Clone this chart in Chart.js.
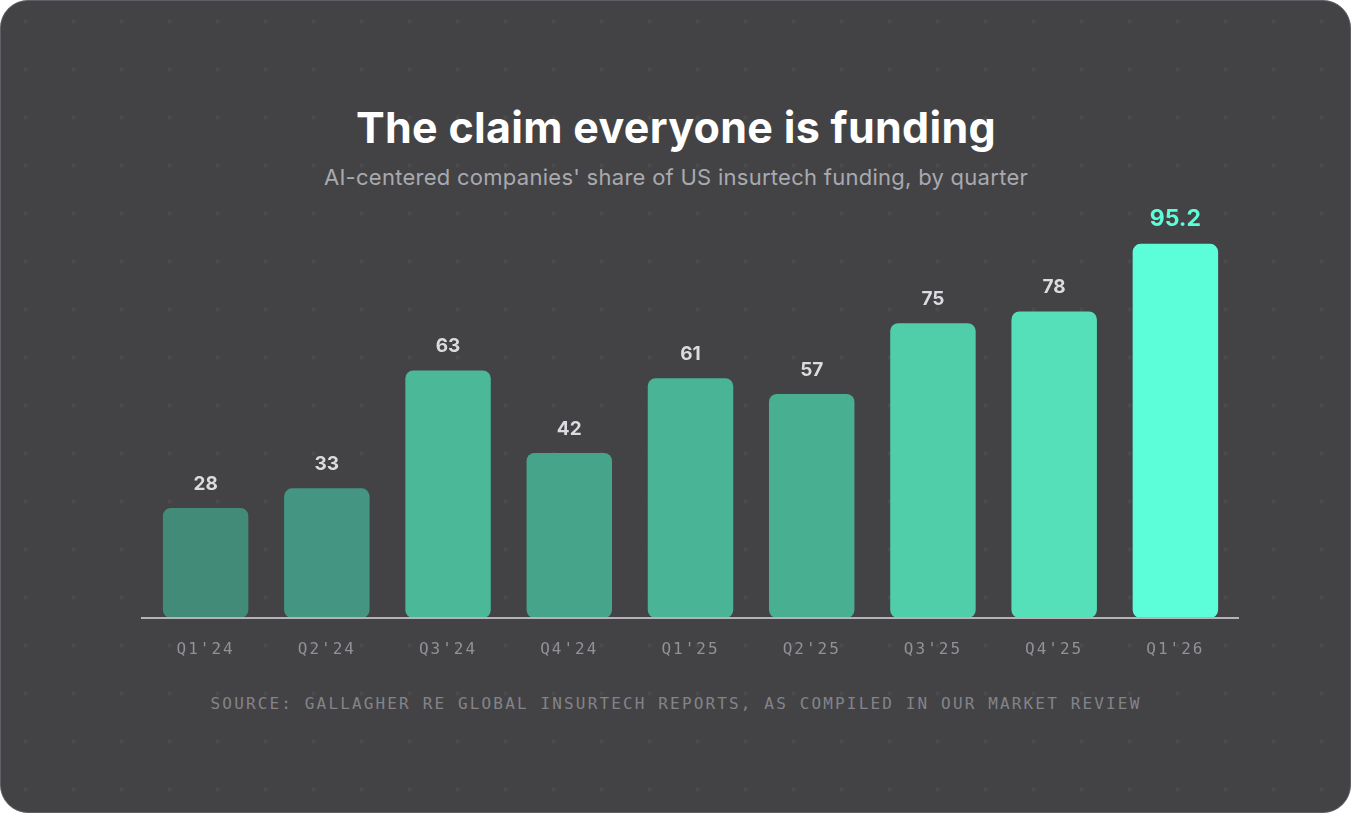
<!DOCTYPE html>
<html>
<head>
<meta charset="utf-8">
<script src="https://cdn.jsdelivr.net/npm/chart.js@4.4.1/dist/chart.umd.min.js"></script>
<style>
  html, body { margin: 0; padding: 0; background: #ffffff; width: 1352px; height: 816px; overflow: hidden; }
  .card {
    position: absolute; left: 0; top: 0; width: 1351px; height: 813px; box-sizing: border-box;
    border: 1.5px solid #5f5f67; border-radius: 28px;
    background-color: #434345;
    background-image: radial-gradient(circle, #4d4d50 1.5px, rgba(77,77,80,0) 2.2px);
    background-size: 48px 48px;
    background-position: 0.5px -3.5px;
  }
  .title {
    position: absolute; left: 0; width: 1352px; text-align: center;
    top: 102px; height: 50px; line-height: 50px;
    font-family: "Inter", "Noto Sans", sans-serif; font-weight: 700; font-size: 43px;
    color: #ffffff; letter-spacing: 0.3px;
  }
  .subtitle {
    position: absolute; left: 0; width: 1352px; text-align: center;
    top: 163px; height: 28px; line-height: 28px;
    font-family: "Inter", "Noto Sans", sans-serif; font-weight: 400; font-size: 22px;
    color: #a9a9b0; letter-spacing: 0.27px;
  }
  .source {
    position: absolute; left: 0; width: 1352px; text-align: center;
    top: 692px; height: 24px; line-height: 24px;
    font-family: "DejaVu Sans Mono", "Liberation Mono", monospace; font-size: 16px;
    color: #838389; letter-spacing: 2.15px;
  }
  canvas { position: absolute; left: 0; top: 0; }
</style>
</head>
<body>
<div class="card"></div>
<div class="title">The claim everyone is funding</div>
<div class="subtitle">AI-centered companies' share of US insurtech funding, by quarter</div>
<div class="source">SOURCE: GALLAGHER RE GLOBAL INSURTECH REPORTS, AS COMPILED IN OUR MARKET REVIEW</div>
<canvas id="c" width="1352" height="816"></canvas>
<script>
// ---- data ----
const categories = ["Q1'24", "Q2'24", "Q3'24", "Q4'24", "Q1'25", "Q2'25", "Q3'25", "Q4'25", "Q1'26"];
const values = [28, 33, 63, 42, 61, 57, 75, 78, 95.2];
const valueLabels = ["28", "33", "63", "42", "61", "57", "75", "78", "95.2"];
const yRange = [0, 100];

// ---- styles ----
const barColors = ["#438b79", "#449582", "#4bb898", "#46a48a", "#4ab596", "#49af91", "#50cda9", "#55e0b9", "#5cfed9"];
const highlightIndex = 8;

const tickSpacing = {
  id: 'tickSpacing',
  beforeDraw(chart) { chart.ctx.letterSpacing = '2px'; },
  beforeDatasetsDraw(chart) { chart.ctx.letterSpacing = '0px'; }
};

const baseline = {
  id: 'baseline',
  afterDatasetsDraw(chart) {
    const { ctx, chartArea } = chart;
    ctx.save();
    ctx.strokeStyle = '#b4b4b8';
    ctx.lineWidth = 2;
    ctx.beginPath();
    ctx.moveTo(chartArea.left - 4, chartArea.bottom);
    ctx.lineTo(chartArea.right + 3, chartArea.bottom);
    ctx.stroke();
    ctx.restore();
  }
};

const valueLabelPlugin = {
  id: 'valueLabels',
  afterDatasetsDraw(chart) {
    const { ctx } = chart;
    const meta = chart.getDatasetMeta(0);
    ctx.save();
    ctx.letterSpacing = '0px';
    ctx.textAlign = 'center';
    ctx.textBaseline = 'middle';
    meta.data.forEach((bar, i) => {
      const hi = i === highlightIndex;
      ctx.font = hi ? '700 23px Inter, "Noto Sans", sans-serif' : '700 19px Inter, "Noto Sans", sans-serif';
      ctx.fillStyle = hi ? '#5cfed9' : '#dcdce0';
      ctx.fillText(valueLabels[i], bar.x, bar.y - (hi ? 25 : 24));
    });
    ctx.restore();
  }
};

new Chart(document.getElementById('c'), {
  type: 'bar',
  data: {
    labels: categories,
    datasets: [{
      data: values,
      backgroundColor: barColors,
      borderRadius: 8,
      borderSkipped: false,
      barPercentage: 0.705,
      categoryPercentage: 1.0
    }]
  },
  options: {
    responsive: false,
    animation: false,
    devicePixelRatio: 1,
    layout: { padding: { left: 145, right: 116, top: 225, bottom: 0 } },
    plugins: { legend: { display: false }, tooltip: { enabled: false }, title: { display: false } },
    scales: {
      x: {
        grid: { display: false, drawTicks: false },
        border: { display: false },
        ticks: {
          color: '#919197',
          font: { family: '"DejaVu Sans Mono", "Liberation Mono", monospace', size: 16 },
          padding: 22,
          maxRotation: 0,
          autoSkip: false
        },
        afterFit(scale) { scale.height = 198; }
      },
      y: {
        display: false,
        min: yRange[0],
        max: yRange[1]
      }
    }
  },
  plugins: [tickSpacing, baseline, valueLabelPlugin]
});
</script>
</body>
</html>
